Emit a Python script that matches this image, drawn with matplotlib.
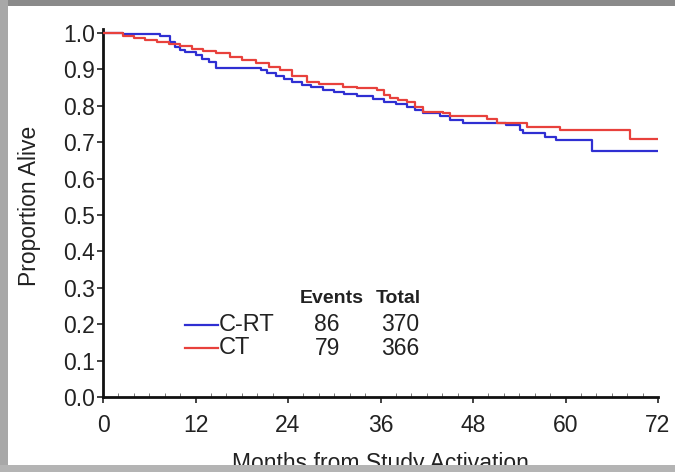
import matplotlib
matplotlib.use("Agg")
import matplotlib.pyplot as plt
from matplotlib.patches import Rectangle
from matplotlib.ticker import MultipleLocator

plt.rcParams["font.family"] = ["Liberation Sans", "DejaVu Sans"]

# Kaplan-Meier step points (months, proportion alive)
crt_t = [0, 2.6, 7.4, 8.7, 9.3, 10, 10.6, 12, 12.8, 13.7, 14.7, 20.5, 21.3, 22.5,
         23.5, 24.5, 25.8, 27, 28.5, 30, 31.2, 33, 35, 36.5, 38, 39.5, 40.5, 41.5,
         43.7, 45, 46.7, 52.3, 54.1, 54.5, 57.3, 58.8, 63.5, 72]
crt_s = [1.0, 0.997, 0.993, 0.975, 0.962, 0.953, 0.948, 0.94, 0.93, 0.92, 0.905,
         0.898, 0.89, 0.882, 0.873, 0.866, 0.857, 0.851, 0.843, 0.837, 0.832, 0.826,
         0.82, 0.811, 0.806, 0.797, 0.788, 0.779, 0.772, 0.761, 0.754, 0.747, 0.734,
         0.724, 0.713, 0.706, 0.677, 0.677]
ct_t = [0, 2.6, 4, 5.5, 7, 8.5, 10, 11.5, 13, 14.7, 16.5, 18, 19.9, 21.5, 23, 24.5,
        26.4, 28, 31.1, 33, 35.5, 36.4, 37.2, 38.3, 39.4, 40.5, 41.5, 44.1, 45, 49.8,
        51.1, 55, 59.3, 68.4, 72]
ct_s = [1.0, 0.993, 0.986, 0.98, 0.976, 0.97, 0.964, 0.957, 0.95, 0.944, 0.935,
        0.927, 0.917, 0.907, 0.898, 0.882, 0.866, 0.86, 0.853, 0.848, 0.843, 0.83,
        0.822, 0.816, 0.811, 0.797, 0.784, 0.78, 0.772, 0.763, 0.752, 0.743, 0.734,
        0.708, 0.708]

arms = ["C-RT", "CT"]
events = [86, 79]
totals = [370, 366]
colors = ["#2f2fd2", "#e8413c"]

x_ticks = [0, 12, 24, 36, 48, 60, 72]
y_ticks = [0.0, 0.1, 0.2, 0.3, 0.4, 0.5, 0.6, 0.7, 0.8, 0.9, 1.0]

W, H = 675, 472
TXT = "#222222"
fig = plt.figure(figsize=(W / 100, H / 100), dpi=100)
fig.patch.set_facecolor("white")

ax = fig.add_axes([103 / W, 75 / H, 555 / W, 367.6 / H])
ax.step(crt_t, crt_s, where="post", color=colors[0], lw=1.6, zorder=3)
ax.step(ct_t, ct_s, where="post", color=colors[1], lw=1.6, zorder=3)

ax.set_xlim(0, 72)
ax.set_ylim(0, 1.01)
ax.set_xticks(x_ticks)
ax.set_yticks(y_ticks)
ax.set_yticklabels([f"{v:.1f}" for v in y_ticks])
ax.xaxis.set_minor_locator(MultipleLocator(2))
ax.tick_params(axis="both", labelsize=16.5, colors=TXT, width=1.2, length=4)
ax.tick_params(axis="x", pad=8)
ax.tick_params(axis="y", pad=2)
ax.tick_params(axis="x", which="minor", direction="in", length=3, width=0.7, color="#777777")
for s in ("top", "right"):
    ax.spines[s].set_visible(False)
for s in ("left", "bottom"):
    ax.spines[s].set_linewidth(2.0)
    ax.spines[s].set_color("#111111")

ax.set_ylabel("Proportion Alive", fontsize=16.5, color=TXT)
ax.yaxis.set_label_coords(-62 / 555, 0.52)
ax.set_xlabel("Months from Study Activation", fontsize=16.5, color=TXT)
# the reference's slide frame crops the bottom of this label
ax.xaxis.set_label_coords(0.5, -55 / 367.6)

# events / total table used as the legend
ax.text(0.470, 0.269, "Events", transform=ax.transAxes, ha="right", va="center",
        fontsize=14, fontweight="bold", color=TXT)
ax.text(0.573, 0.269, "Total", transform=ax.transAxes, ha="right", va="center",
        fontsize=14, fontweight="bold", color=TXT)
for i, (arm, ev, tot, c) in enumerate(zip(arms, events, totals, colors)):
    y = 0.196 - i * 0.064
    ax.plot([0.148, 0.207], [y, y], transform=ax.transAxes, color=c, lw=1.6)
    ax.text(0.209, y, arm, transform=ax.transAxes, ha="left", va="center",
            fontsize=17, color=TXT)
    ax.text(0.404, y, str(ev), transform=ax.transAxes, ha="center", va="center",
            fontsize=16.5, color=TXT)
    ax.text(0.570, y, str(tot), transform=ax.transAxes, ha="right", va="center",
            fontsize=16.5, color=TXT)

# gray slide frame around the white panel (drawn over the cut-off x label)
frame = [
    (0, 1 - 6 / H, 1, 6 / H, "#8a8a8a"),
    (0, 0, 8 / W, 1, "#a8a8a8"),
    (0, 0, 1, 7 / H, "#b4b4b4"),
]
for x0, y0, w, h, fc in frame:
    fig.patches.append(Rectangle((x0, y0), w, h, transform=fig.transFigure,
                                 facecolor=fc, edgecolor="none", zorder=10))

fig.savefig("out.png", dpi=100)
